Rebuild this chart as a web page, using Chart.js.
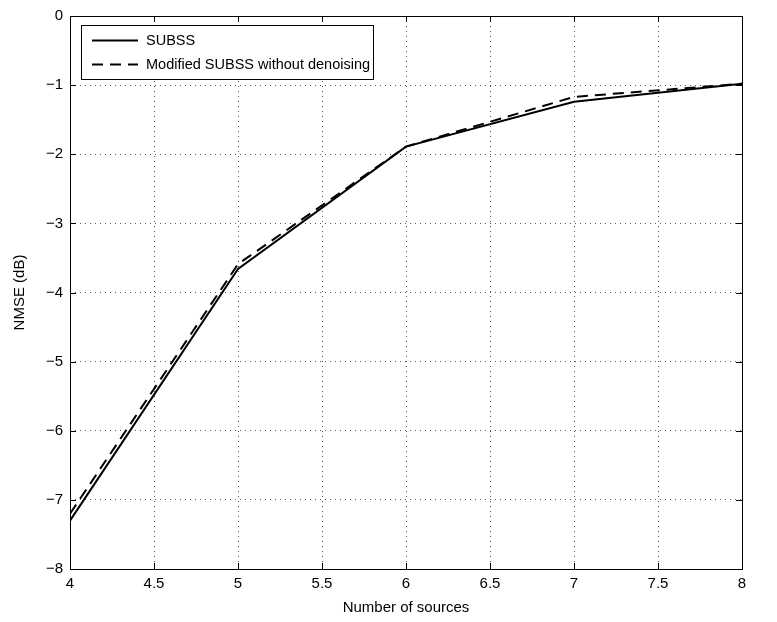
<!DOCTYPE html>
<html>
<head>
<meta charset="utf-8">
<script src="https://cdn.jsdelivr.net/npm/chart.js"></script>
<style>
  html, body { margin: 0; padding: 0; background: #fff; }
  #wrap { width: 777px; height: 622px; }
</style>
</head>
<body>
<div id="wrap"><canvas id="grafico" width="777" height="622"></canvas></div>
<script>
// fontes no eixo x
var numFontes = [4, 5, 6, 7, 8];
// NMSE (dB)
var nmseSubss = [-7.30, -3.66, -1.89, -1.24, -0.98];
var nmseSemDenoising = [-7.20, -3.59, -1.89, -1.17, -0.98];
var nomesSeries = ["SUBSS", "Modified SUBSS without denoising"];

var fonte = "'Liberation Sans', Arial, sans-serif";

function pontos(ys) {
    var arr = [];
    for (var i = 0; i < numFontes.length; i++) {
        arr.push({ x: numFontes[i], y: ys[i] });
    }
    return arr;
}

function menos(v) {
    return v < 0 ? '\u2212' + Math.abs(v) : String(v);
}

// ticks para dentro + caixa, estilo matlab
var caixaPlugin = {
    id: 'caixa',
    afterDatasetsDraw: function (chart) {
        var ctx = chart.ctx;
        var a = chart.chartArea;
        var sx = chart.scales.x, sy = chart.scales.y;
        ctx.save();
        ctx.strokeStyle = '#000';
        ctx.lineWidth = 1;
        ctx.beginPath();
        sx.ticks.forEach(function (t) {
            var px = Math.round(sx.getPixelForValue(t.value)) + 0.5;
            ctx.moveTo(px, a.bottom); ctx.lineTo(px, a.bottom - 6);
            ctx.moveTo(px, a.top); ctx.lineTo(px, a.top + 6);
        });
        sy.ticks.forEach(function (t) {
            var py = Math.round(sy.getPixelForValue(t.value)) + 0.5;
            ctx.moveTo(a.left, py); ctx.lineTo(a.left + 6, py);
            ctx.moveTo(a.right, py); ctx.lineTo(a.right - 6, py);
        });
        ctx.stroke();
        ctx.strokeRect(Math.round(a.left) + 0.5, Math.round(a.top) + 0.5, Math.round(a.right - a.left), Math.round(a.bottom - a.top));

        // legenda dentro do grafico
        var lx = a.left + 11, ly = a.top + 9, lw = 292, lh = 54;
        ctx.fillStyle = '#fff';
        ctx.fillRect(lx, ly, lw, lh);
        ctx.strokeRect(lx + 0.5, ly + 0.5, lw, lh);
        ctx.font = '14.5px ' + fonte;
        ctx.textBaseline = 'middle';
        chart.data.datasets.forEach(function (ds, i) {
            var yy = Math.round(ly + 15 + i * 24) + 0.5;
            ctx.strokeStyle = ds.borderColor;
            ctx.lineWidth = ds.borderWidth;
            ctx.setLineDash(ds.borderDash || []);
            ctx.beginPath();
            ctx.moveTo(lx + 11, yy); ctx.lineTo(lx + 57, yy);
            ctx.stroke();
            ctx.setLineDash([]);
            ctx.fillStyle = '#000';
            ctx.fillText(ds.label, lx + 65, yy);
        });
        ctx.restore();
    }
};

var ctx = document.getElementById("grafico").getContext("2d");
var myChart = new Chart(ctx, {
    type: "line",
    data: {
        datasets: [{
            label: nomesSeries[0],
            data: pontos(nmseSubss),
            borderColor: '#000',
            borderWidth: 2,
            pointRadius: 0,
            tension: 0,
            fill: false
        }, {
            label: nomesSeries[1],
            data: pontos(nmseSemDenoising),
            borderColor: '#000',
            borderWidth: 2,
            borderDash: [11, 7],
            pointRadius: 0,
            tension: 0,
            fill: false
        }]
    },
    options: {
        responsive: false,
        animation: false,
        layout: { padding: { top: 15, right: 35, left: 0, bottom: 0 } },
        plugins: {
            legend: { display: false },
            tooltip: { enabled: false }
        },
        scales: {
            x: {
                type: 'linear',
                min: 4, max: 8,
                ticks: {
                    stepSize: 0.5,
                    color: '#000',
                    font: { family: fonte, size: 15 },
                    maxRotation: 0,
                    padding: 6,
                    callback: function (v) { return String(v); }
                },
                grid: {
                    color: '#555',
                    tickLength: 0,
                    drawTicks: false
                },
                border: { display: false, dash: [1, 4] },
                title: {
                    display: true,
                    text: 'Number of sources',
                    color: '#000',
                    font: { family: fonte, size: 15 },
                    padding: { top: 2, bottom: 5 }
                },
                afterFit: function (scale) { scale.height = 53; }
            },
            y: {
                type: 'linear',
                min: -8, max: 0,
                ticks: {
                    stepSize: 1,
                    color: '#000',
                    font: { family: fonte, size: 15 },
                    padding: 7,
                    callback: menos
                },
                grid: {
                    color: '#555',
                    tickLength: 0,
                    drawTicks: false
                },
                border: { display: false, dash: [1, 4] },
                title: {
                    display: true,
                    text: 'NMSE (dB)',
                    color: '#000',
                    font: { family: fonte, size: 15 },
                    padding: { top: 11, bottom: 4 }
                },
                afterFit: function (scale) { scale.width = 70; }
            }
        }
    },
    plugins: [caixaPlugin]
});
</script>
</body>
</html>
